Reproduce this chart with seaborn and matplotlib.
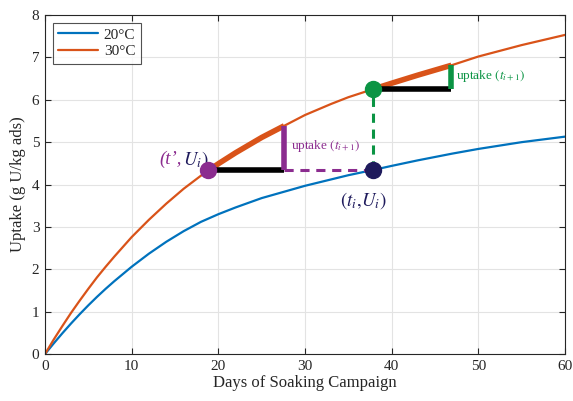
import numpy as np
import pandas as pd
import matplotlib
matplotlib.use("Agg")
import matplotlib.pyplot as plt
import seaborn as sns

# ---------------- data ----------------
days = [0, 1, 2, 3, 4, 5, 6, 7, 8, 10, 12, 14, 16, 18, 20, 22, 25, 30, 33, 35,
        38, 40, 43, 45, 47, 50, 55, 60]
uptake_20C = [0, 0.25, 0.49, 0.72, 0.94, 1.15, 1.35, 1.54, 1.72, 2.06, 2.37, 2.65,
              2.90, 3.12, 3.30, 3.46, 3.68, 3.97, 4.12, 4.22, 4.35, 4.44, 4.57, 4.65,
              4.73, 4.84, 5.00, 5.13]
uptake_30C = [0, 0.34, 0.66, 0.97, 1.26, 1.54, 1.81, 2.06, 2.30, 2.76, 3.17, 3.55,
              3.90, 4.21, 4.49, 4.75, 5.11, 5.64, 5.90, 6.06, 6.26, 6.39, 6.58, 6.70,
              6.82, 7.02, 7.29, 7.53]
series_labels = ["20°C", "30°C"]

# annotation points (days)
t_prime = 18.85      # (t', U_i)
t_i = 37.8           # (t_i, U_i)
t_prime_next = 27.6  # end of step from t'
t_i_next = 46.9      # end of step from t_i

x_ticks = [0, 10, 20, 30, 40, 50, 60]
y_ticks = [0, 1, 2, 3, 4, 5, 6, 7, 8]

# ---------------- style ----------------
BLUE = "#0072BD"
ORANGE = "#D95319"
PURPLE = "#8B2C8F"
GREEN = "#0B9444"
NAVY = "#1E1A5C"
DARK = "#262626"

sns.set_theme(style="whitegrid")
plt.rcParams.update({
    "font.family": ["Liberation Serif", "DejaVu Serif"],
    "mathtext.fontset": "stix",
    "axes.edgecolor": DARK,
    "axes.linewidth": 0.8,
    "grid.color": "#e3e3e3",
    "grid.linewidth": 0.8,
    "xtick.color": DARK,
    "ytick.color": DARK,
})

fig = plt.figure(figsize=(5.73, 4.01), dpi=100)
ax = fig.add_axes([0.0785, 0.117, 0.9075, 0.8456])

df = pd.DataFrame({
    "Day": days * 2,
    "Uptake": uptake_20C + uptake_30C,
    "Series": [series_labels[0]] * len(days) + [series_labels[1]] * len(days),
})
sns.lineplot(data=df, x="Day", y="Uptake", hue="Series",
             palette=[BLUE, ORANGE], linewidth=1.6, ax=ax, sort=False)

d = np.array(days, dtype=float)
u20 = np.array(uptake_20C)
u30 = np.array(uptake_30C)


def on_curve(t0, t1, y):
    inside = (d > t0) & (d < t1)
    ts = np.concatenate([[t0], d[inside], [t1]])
    return ts, np.interp(ts, d, y)


U_i = np.interp(t_i, d, u20)
U_i_green = np.interp(t_i, d, u30)

# first step (purple)
ts, ys = on_curve(t_prime, t_prime_next, u30)
ax.plot(ts, ys, color=ORANGE, lw=4, solid_capstyle="butt", zorder=3)
ax.plot([t_prime, t_prime_next], [U_i, U_i], color="black", lw=4,
        solid_capstyle="butt", zorder=3)
ax.plot([t_prime_next, t_prime_next], [U_i, ys[-1]], color=PURPLE, lw=4,
        solid_capstyle="butt", zorder=3)
ax.plot([t_prime_next, t_i], [U_i, U_i], color=PURPLE, lw=2.2,
        ls=(0, (3, 2.2)), zorder=3)

# second step (green)
ts2, ys2 = on_curve(t_i, t_i_next, u30)
ax.plot(ts2, ys2, color=ORANGE, lw=4, solid_capstyle="butt", zorder=3)
ax.plot([t_i, t_i_next], [U_i_green, U_i_green], color="black", lw=4,
        solid_capstyle="butt", zorder=3)
ax.plot([t_i_next, t_i_next], [U_i_green, ys2[-1]], color=GREEN, lw=4,
        solid_capstyle="butt", zorder=3)
ax.plot([t_i, t_i], [U_i, U_i_green], color=GREEN, lw=2.2,
        ls=(0, (3, 2.2)), zorder=3)

# dots
ax.plot([t_prime], [U_i], "o", color=PURPLE, ms=11.5, zorder=5)
ax.plot([t_i], [U_i], "o", color=NAVY, ms=11.5, zorder=5)
ax.plot([t_i], [U_i_green], "o", color=GREEN, ms=11.5, zorder=5)

# labels
ax.text(15.8, 4.60, "(t\u2019,", color=PURPLE, fontsize=13.5, style="italic",
        ha="right", va="center")
ax.text(15.9, 4.60, r"$U_i)$", color=NAVY, fontsize=13.5, ha="left", va="center")
ax.text(34.0, 3.63, r"$(t_i,\!U_i)$", color=NAVY, fontsize=13.5, ha="left",
        va="center")
ax.text(28.4, 4.91, r"uptake $(t_{i+1})$", color=PURPLE, fontsize=9.5,
        ha="left", va="center")
ax.text(47.4, 6.57, r"uptake $(t_{i+1})$", color=GREEN, fontsize=9.5,
        ha="left", va="center")

# axes
ax.set_xlim(0, 60)
ax.set_ylim(0, 8)
ax.set_xticks(x_ticks)
ax.set_yticks(y_ticks)
ax.tick_params(axis="both", which="both", direction="in", length=4, width=0.8,
               labelsize=11, top=True, right=True, bottom=True, left=True,
               pad=4)
for s in ax.spines.values():
    s.set_visible(True)
    s.set_color(DARK)
    s.set_linewidth(0.8)
ax.grid(True, color="#e3e3e3", lw=0.8)
ax.set_axisbelow(True)
ax.set_xlabel("Days of Soaking Campaign", fontsize=12, color=DARK, labelpad=2)
ax.set_ylabel("Uptake (g U/kg ads)", fontsize=12, color=DARK, labelpad=4)

leg = ax.legend(loc="upper left", frameon=True, fancybox=False, fontsize=11,
                handlelength=2.6, borderaxespad=0.5, borderpad=0.35,
                labelspacing=0.2, handletextpad=0.4)
leg.get_frame().set_edgecolor(DARK)
leg.get_frame().set_linewidth(0.8)
leg.set_title(None)

fig.savefig("out.png", dpi=100)
